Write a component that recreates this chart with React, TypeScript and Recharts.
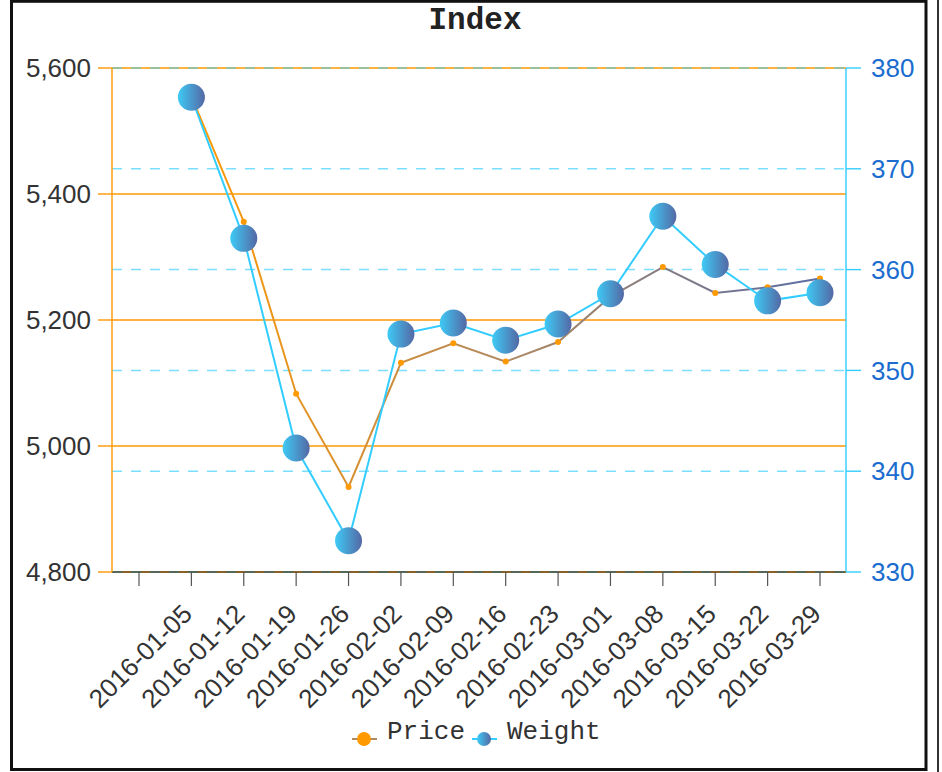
import React from 'react';
import { LineChart, Line, XAxis, YAxis, CartesianGrid } from 'recharts';

const dates = [
  '2016-01-05', '2016-01-12', '2016-01-19', '2016-01-26', '2016-02-02', '2016-02-09', '2016-02-16',
  '2016-02-23', '2016-03-01', '2016-03-08', '2016-03-15', '2016-03-22', '2016-03-29',
];
const priceValues = [5555, 5356, 5083, 4935, 5132, 5163, 5134, 5165, 5237, 5284, 5243, 5252, 5266];
const weightValues = [377.1, 363.1, 342.3, 333.1, 353.6, 354.7, 353.0, 354.6, 357.6, 365.3, 360.5, 356.9, 357.7];
const priceTicks = [4800, 5000, 5200, 5400, 5600];
const weightTicks = [330, 340, 350, 360, 370, 380];
const seriesNames = ['Price', 'Weight'];
const titleText = 'Index';

const data = [
  { date: '', price: null as number | null, weight: null as number | null },
  ...dates.map((d, i) => ({ date: d, price: priceValues[i], weight: weightValues[i] })),
];

const SANS = '"Liberation Sans", Arial, sans-serif';
const MONO = '"Liberation Mono", "Courier New", monospace';

const DateTick = (props: any) => {
  const { x, y, payload } = props;
  if (!payload || !payload.value) return <g />;
  const ax = x - 4;
  const ay = y;
  return (
    <text
      x={ax}
      y={ay}
      transform={`rotate(-45, ${ax}, ${ay})`}
      textAnchor="end"
      dy="0.35em"
      fontSize={26}
      fill="#333"
      fontFamily={SANS}
    >
      {payload.value}
    </text>
  );
};

const PriceDot = (props: any) => {
  const { cx, cy, index } = props;
  if (cx == null || cy == null || props.value == null) return <g key={`pd-${index}`} />;
  return <circle key={`pd-${index}`} cx={cx} cy={cy} r={3} fill="#ff9900" />;
};

const WeightDot = (props: any) => {
  const { cx, cy, index } = props;
  if (cx == null || cy == null || props.value == null) return <g key={`wd-${index}`} />;
  return <circle key={`wd-${index}`} cx={cx} cy={cy} r={13.5} fill="url(#weightDotGrad)" />;
};

export default function App() {
  return (
    <div style={{ position: 'absolute', left: 0, top: 0, width: 942, height: 772, background: '#fff' }}>
      <LineChart
        width={942}
        height={772}
        data={data}
        margin={{ top: 68, right: 0, bottom: 0, left: 0 }}
      >
        <defs>
          <linearGradient id="weightDotGrad" x1="0" y1="0" x2="1" y2="0">
            <stop offset="0%" stopColor="#3ecaf6" />
            <stop offset="100%" stopColor="#5468a4" />
          </linearGradient>
          <linearGradient id="priceLineGrad" x1="0" y1="0" x2="1" y2="0">
            <stop offset="0%" stopColor="#ff9900" />
            <stop offset="50%" stopColor="#b08860" />
            <stop offset="100%" stopColor="#5a6ea4" />
          </linearGradient>
        </defs>
        <CartesianGrid yAxisId="left" horizontal vertical={false} stroke="#ff9900" strokeWidth={1.4} />
        <CartesianGrid
          yAxisId="right"
          horizontal
          vertical={false}
          stroke="#33ccff"
          strokeOpacity={0.65}
          strokeDasharray="10 9"
          strokeWidth={1.5}
        />
        <XAxis
          dataKey="date"
          interval={0}
          height={200}
          padding={{ left: 27, right: 26 }}
          tickSize={14}
          tickMargin={23}
          axisLine={{ stroke: '#111', strokeWidth: 1 }}
          tickLine={{ stroke: '#555', strokeWidth: 1.2 }}
          tick={<DateTick />}
        />
        <YAxis
          yAxisId="left"
          orientation="left"
          width={112}
          domain={[4800, 5600]}
          ticks={priceTicks}
          interval={0}
          tickSize={14}
          tickMargin={7}
          axisLine={{ stroke: '#ff9900', strokeWidth: 1.4 }}
          tickLine={{ stroke: '#ff9900', strokeWidth: 1.4 }}
          tick={{ fontSize: 26, fill: '#333', fontFamily: SANS }}
          tickFormatter={(v: number) => v.toLocaleString('en-US')}
        />
        <YAxis
          yAxisId="right"
          orientation="right"
          width={96}
          domain={[330, 380]}
          ticks={weightTicks}
          interval={0}
          tickSize={15}
          tickMargin={10}
          axisLine={{ stroke: '#33ccff', strokeWidth: 1.4 }}
          tickLine={{ stroke: '#33ccff', strokeWidth: 1.4 }}
          tick={{ fontSize: 26, fill: '#1a6ccf', fontFamily: SANS }}
        />
        <Line
          yAxisId="left"
          type="linear"
          dataKey="price"
          name={seriesNames[0]}
          stroke="url(#priceLineGrad)"
          strokeWidth={2}
          dot={<PriceDot />}
          activeDot={false}
          isAnimationActive={false}
        />
        <Line
          yAxisId="right"
          type="linear"
          dataKey="weight"
          name={seriesNames[1]}
          stroke="#33ccff"
          strokeWidth={2}
          dot={<WeightDot />}
          activeDot={false}
          isAnimationActive={false}
        />
      </LineChart>
      <svg
        width={942}
        height={772}
        style={{ position: 'absolute', left: 0, top: 0, pointerEvents: 'none' }}
      >
        <defs>
          <linearGradient id="legendWeightGrad" x1="0" y1="0" x2="1" y2="0">
            <stop offset="0%" stopColor="#3ecaf6" />
            <stop offset="100%" stopColor="#5468a4" />
          </linearGradient>
        </defs>
        <rect x={11.5} y={1.3} width={914.5} height={768.2} fill="none" stroke="#111" strokeWidth={3} />
        <line x1={938} y1={0} x2={938} y2={772} stroke="#333" strokeWidth={2} />
        <text x={475} y={28.5} textAnchor="middle" fontFamily={MONO} fontWeight="bold" fontSize={31} fill="#222">
          {titleText}
        </text>
        <line x1={352} y1={739} x2={377} y2={739} stroke="#b08a5c" strokeWidth={2} />
        <circle cx={364} cy={739} r={7} fill="#ff9900" />
        <text x={387} y={739} fontFamily={MONO} fontSize={26} fill="#333">
          {seriesNames[0]}
        </text>
        <line x1={472} y1={739} x2={497} y2={739} stroke="#33ccff" strokeWidth={2} />
        <circle cx={484} cy={739} r={7} fill="url(#legendWeightGrad)" />
        <text x={507} y={739} fontFamily={MONO} fontSize={26} fill="#333">
          {seriesNames[1]}
        </text>
      </svg>
    </div>
  );
}
